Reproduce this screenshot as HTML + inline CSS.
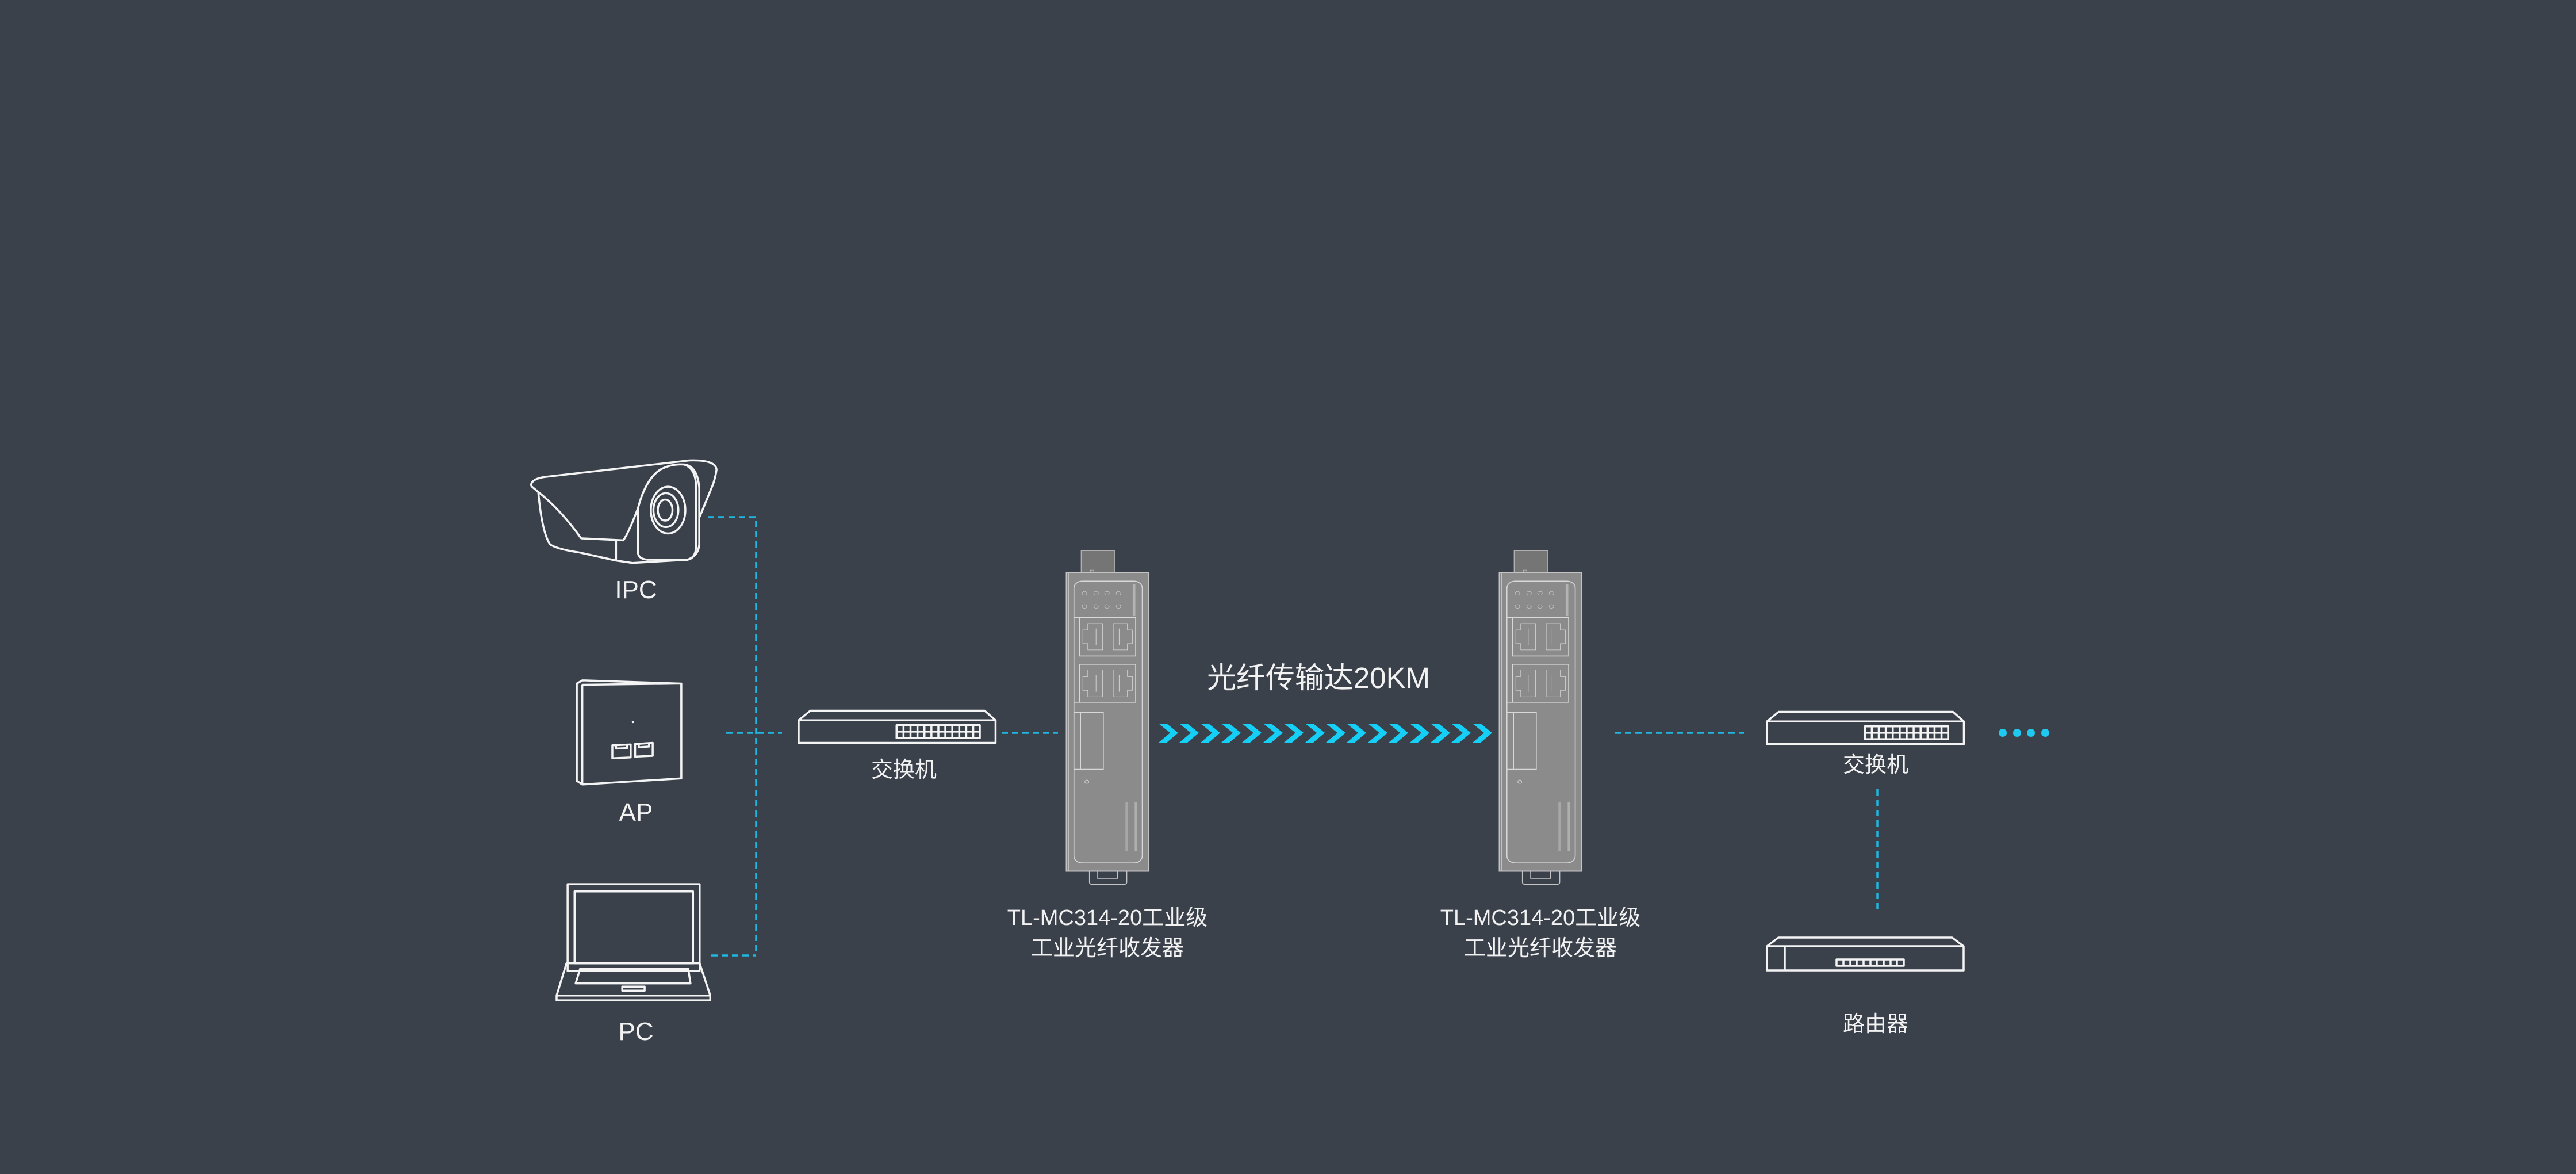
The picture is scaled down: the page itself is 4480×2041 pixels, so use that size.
<!DOCTYPE html>
<html><head><meta charset="utf-8">
<style>
html,body{margin:0;padding:0;background:#3a414b;}
svg{display:block;}
text{font-family:"Liberation Sans","Noto Sans CJK SC",sans-serif;fill:#f2f2f2;}
.w{fill:none;stroke:#f4f4f4;stroke-width:3.5;vector-effect:non-scaling-stroke;stroke-linejoin:round;}
.d{fill:none;stroke:#1fb6e0;stroke-width:3.5;stroke-dasharray:11 7;}
.g{fill:none;stroke:#d8d8d8;stroke-width:1.6;vector-effect:non-scaling-stroke;}
</style></head>
<body>
<svg width="4480" height="2041" viewBox="0 0 4480 2041" xmlns="http://www.w3.org/2000/svg">
<rect width="4480" height="2041" fill="#3a414b"/>

<g transform="translate(880,750) scale(0.6378,0.7015)">
  <path class="w" d="M68,135 Q68,118 105,113 L500,72 Q572,70 574,95 Q572,110 565,130 L528,212"/>
  <path class="w" d="M68,135 L88,150 Q98,250 120,280 Q140,292 200,300 L300,320 L345,326 L495,318 Q525,308 527,280 L527,140 Q522,85 485,82"/>
  <path class="w" d="M360,300 L360,190 Q380,120 420,95 Q450,80 485,82 Q515,90 518,130 L518,290 Q515,315 495,318 L385,318 Q360,315 360,300 Z"/>
  <path class="w" d="M88,150 Q150,195 205,265 L320,270 Q335,250 360,190 M300,272 L300,318"/>
  <ellipse class="w" cx="442" cy="195" rx="47" ry="58"/>
  <ellipse class="w" cx="436" cy="195" rx="34" ry="42"/>
  <ellipse class="w" cx="434" cy="195" rx="20" ry="26"/>
  <path class="w" d="M193,625 L208,617 L478,625 L478,860 L208,875 L193,866 Z M208,628 L478,625 M208,628 L208,875"/>
  <circle cx="346" cy="720" r="3" fill="#f4f4f4"/>
  <path class="w" d="M290,778 L340,776 L340,808 L290,810 Z M300,778 L300,786 L330,785 L330,777"/>
  <path class="w" d="M352,775 L400,772 L400,804 L352,806 Z M362,775 L362,783 L390,781 L390,773"/>
  <rect class="w" x="168" y="1122" width="360" height="215"/>
  <rect class="w" x="187" y="1140" width="323" height="178"/>
  <path class="w" d="M165,1318 L528,1318 L557,1398 L138,1398 Z M138,1398 L138,1410 L557,1410 L557,1398"/>
  <path class="w" d="M202,1332 L497,1332 L503,1368 L190,1368 Z"/>
  <rect class="w" x="317" y="1376" width="61" height="10"/>
</g>
<g transform="translate(880,750) scale(0.6378,0.7015)">
    <path class="w" d="M830,692 L1305,692 L1335,716 L1335,772 L798,772 L798,716 Z M798,716 L1335,716"/>
    <rect class="w" x="1065" y="728" width="227" height="32"/>
    <path class="w" d="M1065,744 L1292,744 M1084,728 V760 M1103,728 V760 M1122,728 V760 M1141,728 V760 M1160,728 V760 M1179,728 V760 M1198,728 V760 M1217,728 V760 M1236,728 V760 M1255,728 V760 M1274,728 V760"/>
</g>
<g transform="translate(2564,752) scale(0.6378,0.7015)">
    <path class="w" d="M830,692 L1305,692 L1335,716 L1335,772 L798,772 L798,716 Z M798,716 L1335,716"/>
    <rect class="w" x="1065" y="728" width="227" height="32"/>
    <path class="w" d="M1065,744 L1292,744 M1084,728 V760 M1103,728 V760 M1122,728 V760 M1141,728 V760 M1160,728 V760 M1179,728 V760 M1198,728 V760 M1217,728 V760 M1236,728 V760 M1255,728 V760 M1274,728 V760"/>
</g>

<path class="d" d="M1231,899 H1315 V1661 M1237,1661 H1315 M1263,1274 H1360 M1742,1274 H1840 M2808,1274 H3033 M3265,1372 V1582"/>
<circle cx="3483" cy="1274" r="7" fill="#1fc8ef"/>
<circle cx="3508" cy="1274" r="7" fill="#1fc8ef"/>
<circle cx="3532" cy="1274" r="7" fill="#1fc8ef"/>
<circle cx="3557" cy="1274" r="7" fill="#1fc8ef"/>

<g id="tr">
<g transform="translate(1800,930) scale(0.574,0.4783)">
  <rect x="140" y="57" width="102" height="81" fill="#757575" stroke="#b0b0b0" stroke-width="1.5" vector-effect="non-scaling-stroke"/>
  <rect x="168" y="128" width="10" height="10" fill="none" stroke="#b0b0b0" vector-effect="non-scaling-stroke"/>
  <rect x="95" y="138" width="250" height="1084" fill="#8b8b8b" stroke="#c4c4c4" stroke-width="2" vector-effect="non-scaling-stroke"/>
  <path class="g" d="M103,140 V1220"/>
  <path d="M165,1222 L165,1262 Q165,1270 175,1270 L268,1270 Q278,1270 278,1262 L278,1222" fill="none" stroke="#c4c4c4" stroke-width="1.6" vector-effect="non-scaling-stroke"/>
  <rect x="190" y="1222" width="60" height="26" fill="none" stroke="#c4c4c4" stroke-width="1.6" vector-effect="non-scaling-stroke"/>
  <rect class="g" x="118" y="168" width="207" height="1024" rx="25" ry="25"/>
  <g fill="none" stroke="#d8d8d8" stroke-width="1.2" vector-effect="non-scaling-stroke">
    <circle cx="150" cy="212" r="7"/><circle cx="185" cy="212" r="7"/><circle cx="218" cy="212" r="7"/><circle cx="253" cy="212" r="7"/>
    <circle cx="150" cy="260" r="7"/><circle cx="185" cy="260" r="7"/><circle cx="218" cy="260" r="7"/><circle cx="253" cy="260" r="7"/>
  </g>
  <rect x="296" y="180" width="8" height="115" fill="#e6e6e6" opacity="0.45"/>
  <path class="g" d="M118,300 H135 M118,608 H135 M118,645 V852 M118,645 H138 M118,852 H138"/>
  <rect class="g" x="135" y="300" width="170" height="140"/>
  <rect class="g" x="135" y="470" width="170" height="138"/>
  <g class="g">
    <path d="M145,345 L160,345 L160,322 L205,322 L205,418 L160,418 L160,395 L145,395 Z"/>
    <path d="M295,345 L280,345 L280,322 L237,322 L237,418 L280,418 L280,395 L295,395 Z"/>
    <path d="M145,515 L160,515 L160,490 L205,490 L205,588 L160,588 L160,565 L145,565 Z"/>
    <path d="M295,515 L280,515 L280,490 L237,490 L237,588 L280,588 L280,565 L295,565 Z"/>
    <path d="M185,340 V400 M255,340 V400 M185,508 V570 M255,508 V570"/>
  </g>
  <rect class="g" x="138" y="645" width="69" height="207"/>
  <circle cx="157" cy="897" r="6" fill="none" stroke="#d8d8d8" vector-effect="non-scaling-stroke"/>
  <rect x="274" y="970" width="7" height="180" fill="#dcdcdc" opacity="0.35"/>
  <rect x="302" y="970" width="7" height="180" fill="#dcdcdc" opacity="0.45"/>
</g>
</g>
<use href="#tr" transform="translate(753,0)"/>

<g fill="#16cff6">
<polygon points="2015,1258 2029,1258 2049,1274 2029,1291 2015,1291 2035,1274"/>
<polygon points="2051,1258 2065,1258 2085,1274 2065,1291 2051,1291 2071,1274"/>
<polygon points="2088,1258 2102,1258 2122,1274 2102,1291 2088,1291 2108,1274"/>
<polygon points="2124,1258 2138,1258 2158,1274 2138,1291 2124,1291 2144,1274"/>
<polygon points="2160,1258 2174,1258 2194,1274 2174,1291 2160,1291 2180,1274"/>
<polygon points="2197,1258 2211,1258 2231,1274 2211,1291 2197,1291 2217,1274"/>
<polygon points="2233,1258 2247,1258 2267,1274 2247,1291 2233,1291 2253,1274"/>
<polygon points="2270,1258 2284,1258 2304,1274 2284,1291 2270,1291 2290,1274"/>
<polygon points="2306,1258 2320,1258 2340,1274 2320,1291 2306,1291 2326,1274"/>
<polygon points="2342,1258 2356,1258 2376,1274 2356,1291 2342,1291 2362,1274"/>
<polygon points="2379,1258 2393,1258 2413,1274 2393,1291 2379,1291 2399,1274"/>
<polygon points="2415,1258 2429,1258 2449,1274 2429,1291 2415,1291 2435,1274"/>
<polygon points="2452,1258 2466,1258 2486,1274 2466,1291 2452,1291 2472,1274"/>
<polygon points="2488,1258 2502,1258 2522,1274 2502,1291 2488,1291 2508,1274"/>
<polygon points="2524,1258 2538,1258 2558,1274 2538,1291 2524,1291 2544,1274"/>
<polygon points="2561,1258 2575,1258 2595,1274 2575,1291 2561,1291 2581,1274"/>
</g>

<path class="w" d="M3073,1645 L3093,1630 L3395,1630 L3415,1645 L3415,1687 L3073,1687 Z M3073,1645 H3415 M3104,1645 V1687"/>
<rect class="w" x="3194" y="1668" width="117" height="11"/>
<path class="w" stroke-width="2" d="M3206,1668 V1679 M3218,1668 V1679 M3229,1668 V1679 M3241,1668 V1679 M3253,1668 V1679 M3264,1668 V1679 M3276,1668 V1679 M3288,1668 V1679 M3299,1668 V1679"/>

<g text-anchor="middle">
<text x="1106" y="1040" font-size="44">IPC</text>
<text x="1106" y="1427" font-size="44">AP</text>
<text x="1106" y="1808" font-size="44">PC</text>
<text x="1572" y="1351" font-size="38">交换机</text>
<text x="3262" y="1342" font-size="38">交换机</text>
<text x="3262" y="1793" font-size="38">路由器</text>
<text x="2293" y="1196" font-size="51">光纤传输达20KM</text>
<text x="1926" y="1608" font-size="38">TL-MC314-20工业级</text>
<text x="1926" y="1661" font-size="38">工业光纤收发器</text>
<text x="2679" y="1608" font-size="38">TL-MC314-20工业级</text>
<text x="2679" y="1661" font-size="38">工业光纤收发器</text>
</g>
</svg>
</body></html>
